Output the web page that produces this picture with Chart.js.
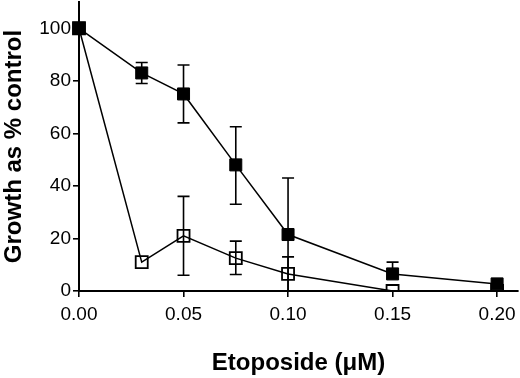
<!DOCTYPE html>
<html><head><meta charset="utf-8">
<script src="https://cdn.jsdelivr.net/npm/chart.js@4/dist/chart.umd.min.js"></script>
<style>html,body{margin:0;padding:0;background:#fff}#wrap{width:520px;height:378px}</style>
</head><body><div id="wrap"><canvas id="c" width="520" height="378"></canvas></div>
<script>
const doses = [0, 0.03, 0.05, 0.075, 0.1, 0.15, 0.2];
const filledMean = [100, 83, 75, 48, 21.5, 6.5, 2.7];
const filledUpper = [null, 87, 86, 62.5, 43, 11, null];
const filledLower = [null, 79, 64, 33, 0, null, null];
const openMean = [100, 11, 21, 12.5, 6.5, 0, 0];
const openUpper = [null, null, 36, 19, 13, null, null];
const openLower = [null, null, 6, 6.3, 0, null, null];
const xTicks = [0, 0.05, 0.10, 0.15, 0.20];
const yTicks = [0, 20, 40, 60, 80, 100];
const xTitle = 'Etoposide (\u03bcM)';
const yTitle = 'Growth as % control';

const toPts = (ys) => doses.map((x, i) => ({x: x, y: ys[i]}));

const errorBars = {
  id: 'errorBars',
  afterDatasetsDraw(chart) {
    const ctx = chart.ctx;
    const xs = chart.scales.x, ys = chart.scales.y;
    const sets = [[openMean, openUpper, openLower], [filledMean, filledUpper, filledLower]];
    ctx.save();
    ctx.strokeStyle = '#000';
    ctx.lineWidth = 1.6;
    sets.forEach(([m, up, lo]) => {
      doses.forEach((d, i) => {
        const px = xs.getPixelForValue(d);
        const pm = ys.getPixelForValue(m[i]);
        [up[i], lo[i]].forEach(v => {
          if (v === null || v === undefined) return;
          const pv = ys.getPixelForValue(v);
          ctx.beginPath();
          ctx.moveTo(px, pm); ctx.lineTo(px, pv);
          ctx.moveTo(px - 6, pv); ctx.lineTo(px + 6, pv);
          ctx.stroke();
        });
      });
    });
    ctx.restore();
  }
};

const FONT = "'Liberation Sans', Arial, Helvetica, sans-serif";
const noPad = (s) => { s.paddingTop = 0; s.paddingBottom = 0; s.paddingLeft = 0; s.paddingRight = 0; };

new Chart(document.getElementById('c'), {
  type: 'scatter',
  data: {
    datasets: [
      {
        data: toPts(openMean), showLine: true,
        borderColor: '#000', borderWidth: 1.5,
        pointStyle: 'rect', pointRadius: 8.5, pointHoverRadius: 8.5,
        pointBackgroundColor: 'rgba(0,0,0,0)', pointBorderColor: '#000', pointBorderWidth: 1.8,
        clip: {left: false, top: false, right: false, bottom: 0},
        order: 2
      },
      {
        data: toPts(filledMean), showLine: true,
        borderColor: '#000', borderWidth: 1.5,
        pointStyle: 'rect', pointRadius: 8.5, pointHoverRadius: 8.5,
        pointBackgroundColor: '#000', pointBorderColor: '#000', pointBorderWidth: 1,
        clip: false,
        order: 1
      }
    ]
  },
  options: {
    responsive: false, animation: false,
    layout: {autoPadding: false, padding: {top: 2, right: 2, left: 0, bottom: 0}},
    plugins: {legend: {display: false}, tooltip: {enabled: false}},
    scales: {
      x: {
        type: 'linear', min: 0, max: 0.21,
        afterBuildTicks: (s) => { s.ticks = xTicks.map(v => ({value: v})); },
        afterFit: (s) => { s.height = 87; noPad(s); },
        grid: {display: true, drawOnChartArea: false, drawTicks: true, tickLength: 6, color: '#000', lineWidth: 1.6},
        border: {display: true, color: '#000', width: 2},
        ticks: {color: '#000', font: {family: FONT, size: 19}, padding: 6, maxRotation: 0,
                callback: (v) => Number(v).toFixed(2)},
        title: {display: true, text: xTitle, color: '#000', font: {family: FONT, size: 24, weight: 'bold'}, padding: 0}
      },
      y: {
        type: 'linear', min: 0, max: 110,
        afterBuildTicks: (s) => { s.ticks = yTicks.map(v => ({value: v})); },
        afterFit: (s) => { s.width = 79; noPad(s); },
        grid: {display: true, drawOnChartArea: false, drawTicks: true, tickLength: 6, color: '#000', lineWidth: 1.6},
        border: {display: true, color: '#000', width: 2},
        ticks: {color: '#000', font: {family: FONT, size: 19}, padding: 2,
                callback: (v) => String(v)},
        title: {display: true, text: yTitle, color: '#000', font: {family: FONT, size: 24, weight: 'bold'}, padding: 0}
      }
    }
  },
  plugins: [errorBars]
});
</script></body></html>
